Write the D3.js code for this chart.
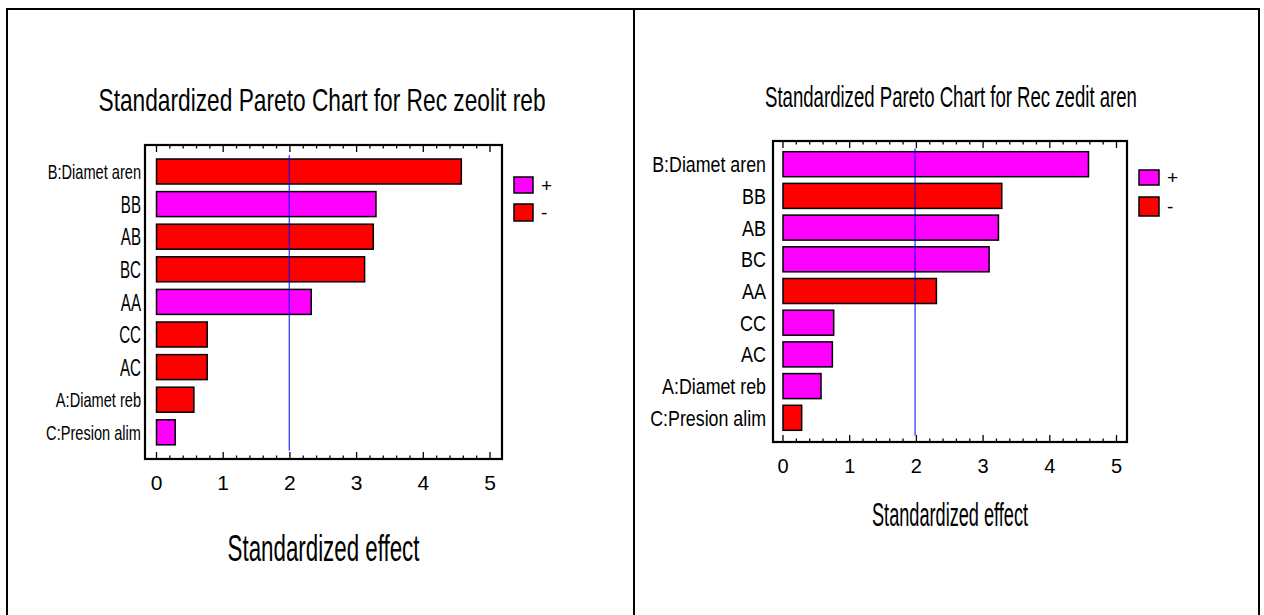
<!DOCTYPE html>
<html>
<head>
<meta charset="utf-8">
<script src="https://cdn.jsdelivr.net/npm/d3@7"></script>
<style>
  html, body { margin: 0; padding: 0; background: #fff; }
  svg { display: block; font-family: "Liberation Sans", Arial, sans-serif; }
</style>
</head>
<body>
<svg id="chart" width="1264" height="615"></svg>
<script>
// Effects, ordered from largest to smallest standardized effect
const effectsReb  = ["B:Diamet aren", "BB", "AB", "BC", "AA", "CC", "AC", "A:Diamet reb", "C:Presion alim"];
const valuesReb   = [4.57, 3.29, 3.25, 3.12, 2.32, 0.76, 0.76, 0.56, 0.28];
const signsReb    = ["-", "+", "-", "-", "+", "-", "-", "-", "+"];

const effectsAren = ["B:Diamet aren", "BB", "AB", "BC", "AA", "CC", "AC", "A:Diamet reb", "C:Presion alim"];
const valuesAren  = [4.58, 3.28, 3.23, 3.09, 2.30, 0.76, 0.74, 0.57, 0.28];
const signsAren   = ["+", "-", "+", "+", "-", "+", "+", "+", "-"];

const xTicks      = [0, 1, 2, 3, 4, 5];
const legendSigns = ["+", "-"];
const critReb  = 1.99;
const critAren = 1.98;

const titleReb  = "Standardized Pareto Chart for Rec zeolit reb";
const titleAren = "Standardized Pareto Chart for Rec zedit aren";
const xTitle    = "Standardized effect";

const signColor = d3.scaleOrdinal().domain(["+", "-"]).range(["#ff00ff", "#ff0000"]);

const svg = d3.select("#chart");

// page frame split into two cells
svg.append("rect").attr("x", 7).attr("y", 9).attr("width", 1252).attr("height", 640)
  .attr("fill", "none").attr("stroke", "#000").attr("stroke-width", 2);
svg.append("line").attr("x1", 634).attr("x2", 634).attr("y1", 9).attr("y2", 615)
  .attr("stroke", "#000").attr("stroke-width", 2);

// condensed text: placed at (x, y) and squeezed horizontally by k
function narrowText(parent, x, y, k, anchor, size, str) {
  return parent.append("text")
    .attr("transform", `translate(${x},${y}) scale(${k},1)`)
    .attr("text-anchor", anchor)
    .attr("font-size", size)
    .text(str);
}

function pareto(cfg) {
  const g = svg.append("g");
  const { box } = cfg;

  const x = d3.scaleLinear().domain([0, 5]).range([cfg.x0, cfg.x5]);
  const y = d3.scaleBand().domain(cfg.effects).range(cfg.band)
    .paddingInner(cfg.pad).paddingOuter(cfg.pad / 2);

  // title
  narrowText(g, cfg.titleX, cfg.titleY, cfg.titleSqueeze, "middle", cfg.titleSize, cfg.title);

  // bars
  g.append("g").selectAll("rect").data(cfg.effects).join("rect")
    .attr("x", x(0))
    .attr("y", d => y(d))
    .attr("width", (d, i) => x(cfg.values[i]) - x(0))
    .attr("height", y.bandwidth())
    .attr("fill", (d, i) => signColor(cfg.signs[i]))
    .attr("stroke", "#000").attr("stroke-width", 1.5);

  // critical value line
  g.append("line").attr("x1", x(cfg.crit)).attr("x2", x(cfg.crit))
    .attr("y1", cfg.band[0]).attr("y2", cfg.band[1] + 2)
    .attr("stroke", "#0000ff").attr("stroke-width", 1);

  // frame ticks, inward on top and bottom
  const minor = d3.range(0, 5.0001, 0.2);
  const tk = g.append("g").attr("stroke", "#000").attr("stroke-width", 1.3);
  minor.forEach(v => {
    const major = Math.abs(v - Math.round(v)) < 1e-6;
    const len = major ? 7 : 3.5;
    tk.append("line").attr("x1", x(v)).attr("x2", x(v)).attr("y1", box.t).attr("y2", box.t + len);
    tk.append("line").attr("x1", x(v)).attr("x2", x(v)).attr("y1", box.b).attr("y2", box.b - len);
  });

  // plot frame
  g.append("rect").attr("x", box.l).attr("y", box.t)
    .attr("width", box.r - box.l).attr("height", box.b - box.t)
    .attr("fill", "none").attr("stroke", "#000").attr("stroke-width", 2.2);

  // tick labels
  g.append("g").selectAll("text").data(xTicks).join("text")
    .attr("x", d => x(d)).attr("y", cfg.tickY)
    .attr("text-anchor", "middle").attr("font-size", cfg.tickSize).text(d => d);

  // effect labels
  const lab = g.append("g");
  cfg.effects.forEach(d => {
    const long = d.length > 3;
    narrowText(lab, cfg.labelX, y(d) + y.bandwidth() / 2,
      long ? cfg.labelSqueeze : cfg.shortSqueeze, "end",
      long ? cfg.labelSize : cfg.shortSize, d)
      .attr("dy", "0.36em");
  });

  // axis title
  narrowText(g, (box.l + box.r) / 2, cfg.xTitleY, cfg.xTitleSqueeze, "middle", cfg.xTitleSize, xTitle);

  // legend
  const lg = g.append("g");
  legendSigns.forEach((s, i) => {
    lg.append("rect").attr("x", cfg.legX).attr("y", cfg.legY[i])
      .attr("width", cfg.legW).attr("height", cfg.legH[i])
      .attr("fill", signColor(s)).attr("stroke", "#000").attr("stroke-width", 1.5);
    lg.append("text").attr("x", cfg.legX + cfg.legW + 8).attr("y", cfg.legY[i] + cfg.legH[i] / 2)
      .attr("dy", "0.36em").attr("font-size", 19).text(s);
  });
}

pareto({
  title: titleReb, effects: effectsReb, values: valuesReb, signs: signsReb, crit: critReb,
  box: { l: 145, r: 502, t: 145, b: 459 },
  x0: 156.5, x5: 490, band: [155.2, 448.6], pad: 0.233,
  titleX: 322, titleY: 111, titleSize: 32, titleSqueeze: 0.71,
  tickY: 490, tickSize: 21,
  labelX: 141, labelSize: 20, labelSqueeze: 0.73, shortSize: 24, shortSqueeze: 0.63,
  xTitleY: 561, xTitleSize: 36, xTitleSqueeze: 0.62,
  legX: 514, legW: 19, legY: [177, 204], legH: [16, 17]
});

pareto({
  title: titleAren, effects: effectsAren, values: valuesAren, signs: signsAren, crit: critAren,
  box: { l: 773, r: 1127, t: 141, b: 442 },
  x0: 783, x5: 1116.5, band: [148.35, 433.65], pad: 0.211,
  titleX: 951, titleY: 107, titleSize: 30, titleSqueeze: 0.62,
  tickY: 473, tickSize: 20,
  labelX: 766, labelSize: 22, labelSqueeze: 0.81, shortSize: 22, shortSqueeze: 0.82,
  xTitleY: 526, xTitleSize: 33, xTitleSqueeze: 0.55,
  legX: 1139, legW: 20, legY: [170, 197], legH: [15, 19]
});
</script>
</body>
</html>
